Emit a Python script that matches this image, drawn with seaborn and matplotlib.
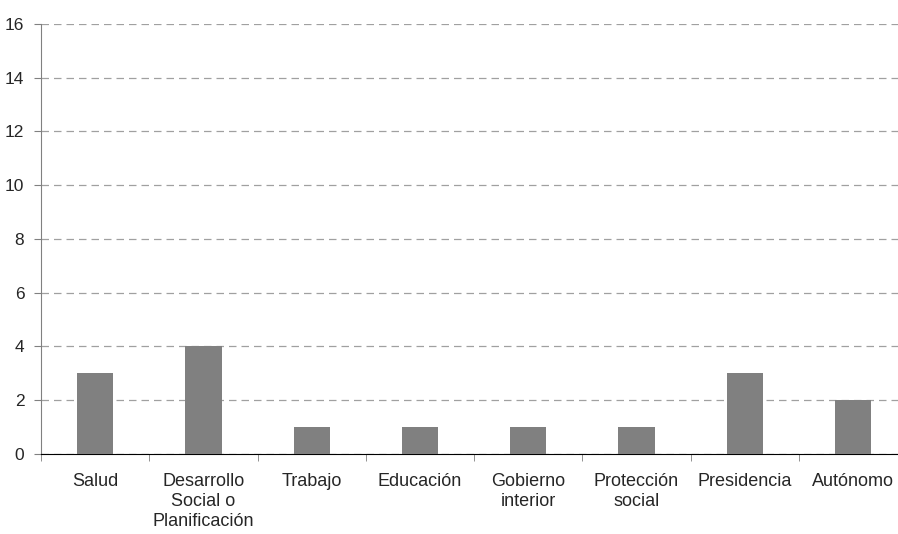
import matplotlib
matplotlib.use("Agg")
import matplotlib.pyplot as plt
from matplotlib.ticker import FixedLocator
import seaborn as sns
import pandas as pd

categories = ["Salud", "Desarrollo\nSocial o\nPlanificación", "Trabajo", "Educación",
              "Gobierno\ninterior", "Protección\nsocial", "Presidencia", "Autónomo"]
values = [3, 4, 1, 1, 1, 1, 3, 2]
yticks = [0, 2, 4, 6, 8, 10, 12, 14, 16]

sns.set_style("white")
plt.rcParams["font.family"] = ["Liberation Sans", "DejaVu Sans"]

df = pd.DataFrame({"cat": categories, "val": values})

fig = plt.figure(figsize=(8.98, 5.34), dpi=100)
ax = fig.add_axes([0.0457, 0.15, 0.9645, 0.805])
sns.barplot(data=df, x="cat", y="val", color="#808080", width=0.335,
            saturation=1, linewidth=0, ax=ax, zorder=3)

ax.set_ylim(0, 16)
ax.set_xlim(-0.5, len(categories) - 0.5)
ax.set_yticks(yticks)
ax.yaxis.grid(True, color="#a0a0a0", linestyle=(0, (6, 4)), linewidth=0.9, zorder=0)
ax.set_axisbelow(True)

for s in ["top", "right"]:
    ax.spines[s].set_visible(False)
ax.spines["left"].set_color("#808080")
ax.spines["bottom"].set_color("black")

ax.tick_params(axis="y", direction="out", length=5, color="#808080", labelsize=12.5, pad=7, left=True)
ax.tick_params(axis="x", which="major", length=0, labelsize=13, pad=14)
for lab in ax.get_xticklabels():
    lab.set_linespacing(1.2)
ax.xaxis.set_minor_locator(FixedLocator([i - 0.5 for i in range(len(categories) + 1)]))
ax.tick_params(axis="x", which="minor", direction="out", length=5, color="#808080", bottom=True)

ax.set_xlabel("")
ax.set_ylabel("")

fig.savefig("out.png", dpi=100)
